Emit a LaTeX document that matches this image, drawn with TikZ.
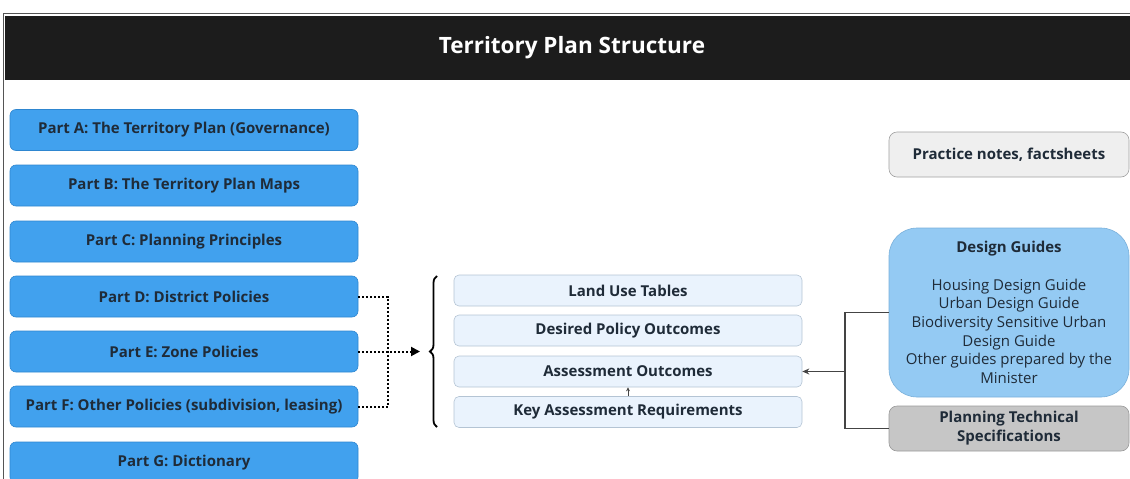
\documentclass[tikz,border=0pt]{standalone}
\usepackage{fontspec}
\setmainfont{Open Sans}
\usetikzlibrary{arrows.meta,decorations.pathreplacing}
\definecolor{hdr}{HTML}{1C1C1C}
\definecolor{frame}{HTML}{555555}
\definecolor{leftblue}{HTML}{41A1EE}
\definecolor{leftborder}{HTML}{2E86D0}
\definecolor{textdark}{HTML}{1F2B38}
\definecolor{midfill}{HTML}{EAF3FD}
\definecolor{midborder}{HTML}{B4C4D4}
\definecolor{pnfill}{HTML}{EFEFEF}
\definecolor{pnborder}{HTML}{A0A0A0}
\definecolor{dgfill}{HTML}{94CAF3}
\definecolor{dgborder}{HTML}{7AB0DA}
\definecolor{ptfill}{HTML}{C6C6C6}
\definecolor{ptborder}{HTML}{999999}
\definecolor{conn}{HTML}{444444}
\begin{document}
\begin{tikzpicture}[x=1pt,y=-1pt,
  partbox/.style={rectangle, rounded corners=6pt, fill=leftblue, draw=leftborder, line width=0.6pt,
    text=textdark, font=\bfseries\fontsize{15}{17}\selectfont, minimum width=348pt, minimum height=41pt, inner sep=0pt},
  midbox/.style={rectangle, rounded corners=5pt, fill=midfill, draw=midborder, line width=0.6pt,
    text=textdark, font=\bfseries\fontsize{15}{17}\selectfont, minimum width=348pt, minimum height=31pt, inner sep=0pt},
  sidebox/.style={rectangle, rounded corners=8pt, line width=0.6pt, text=textdark,
    minimum width=240pt, inner sep=0pt, align=center},
  dotconn/.style={line width=2pt, dash pattern=on 2pt off 2pt, black},
  solconn/.style={line width=1.1pt, conn}
]
\useasboundingbox (0,0) rectangle (1130,479);
% frame and header
\draw[frame, line width=1pt] (3.5,482) -- (3.5,13.5) -- (1132,13.5);
\fill[hdr] (4.5,16) rectangle (1131,80);
\node[text=white, font=\bfseries\fontsize{22.5}{26}\selectfont] (title) at (572,48) {Territory Plan Structure};
% left parts
\node[partbox] (A) at (184,130) {Part A: The Territory Plan (Governance)};
\node[partbox] (B) at (184,185.5) {Part B: The Territory Plan Maps};
\node[partbox] (C) at (184,241.5) {Part C: Planning Principles};
\node[partbox] (D) at (184,296.5) {Part D: District Policies};
\node[partbox] (E) at (184,351.5) {Part E: Zone Policies};
\node[partbox] (F) at (184,406.5) {Part F: Other Policies (subdivision, leasing)};
\node[partbox] (G) at (184,462.5) {Part G: Dictionary};
% middle boxes
\node[midbox] (LU) at (628,290.5) {Land Use Tables};
\node[midbox] (DP) at (628,330.5) {Desired Policy Outcomes};
\node[midbox] (AO) at (628,371.5) {Assessment Outcomes};
\node[midbox] (KA) at (628,412) {Key Assessment Requirements};
% brace
\coordinate (btop) at (437,276);
\coordinate (bbot) at (437,427);
\draw[decorate, decoration={brace, amplitude=7pt}, line width=1.8pt] (bbot) -- (btop);
% dotted connectors
\coordinate (j) at (388,351.5);
\coordinate (tip) at (420,351.5);
\draw[dotconn] (D.east) -| (j) |- (F.east);
\draw[dotconn, -{Triangle[length=9pt,width=9pt]}] (E.east) -- (tip);
% small arrow
\draw[line width=0.8pt, conn, -{Stealth[length=4pt,width=4pt]}] (KA.north) -- (AO.south);
% right side
\node[sidebox, fill=pnfill, draw=pnborder, minimum height=45pt, font=\bfseries\fontsize{15}{17}\selectfont] (PN) at (1009,154.5) {Practice notes, factsheets};
\node[sidebox, fill=dgfill, draw=dgborder, rounded corners=28pt, minimum height=169pt, font=\fontsize{15}{18.7}\selectfont] (DG) at (1009,312.5)
  {\textbf{Design Guides}\\[18.7pt]Housing Design Guide\\Urban Design Guide\\Biodiversity Sensitive Urban\\Design Guide\\Other guides prepared by the\\Minister};
\node[sidebox, fill=ptfill, draw=ptborder, minimum height=45pt, font=\bfseries\fontsize{15}{19}\selectfont] (PT) at (1009,428.5) {Planning Technical\\Specifications};
\coordinate (k) at (845,371.5);
\draw[solconn] (DG.west) -| (k);
\draw[solconn] (PT.west) -| (k);
\draw[solconn, -{Stealth[length=7pt,width=6pt]}] (k) -- (AO.east);
\end{tikzpicture}
\end{document}
